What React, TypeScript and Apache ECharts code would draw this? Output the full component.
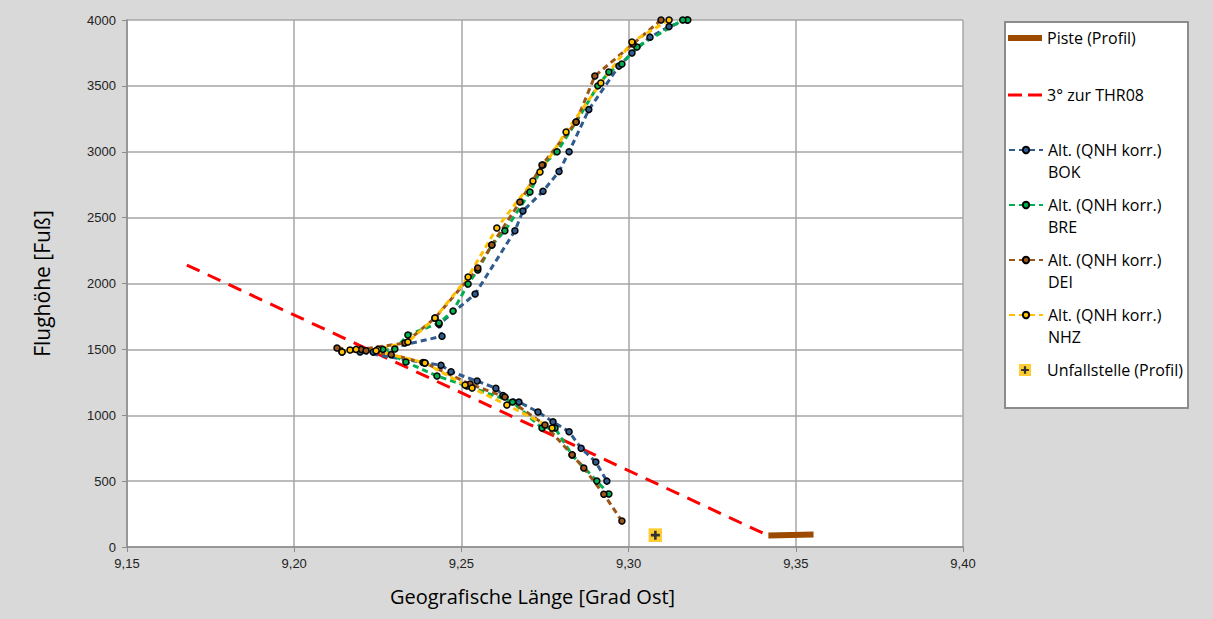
import React, { useEffect, useRef } from "react";
import * as echarts from "echarts";

// ---- data (longitude [deg E], altitude [ft]) ----
const pisteProfile: [number, number][] = [
  [9.3418, 88],
  [9.3553, 94],
];
const glidePath3deg: [number, number][] = [
  [9.1679, 2140],
  [9.3418, 86],
];
const altBOK: [number, number][] = [
  [9.3175, 4000], [9.3121, 3950], [9.3064, 3870], [9.301, 3750], [9.2971, 3650],
  [9.2881, 3320], [9.2822, 3000], [9.2792, 2850], [9.2744, 2700], [9.2684, 2550],
  [9.266, 2400], [9.2541, 1920], [9.2433, 1690], [9.2442, 1600], [9.2236, 1480],
  [9.2197, 1480], [9.2385, 1400], [9.2439, 1380], [9.2469, 1330], [9.2547, 1260],
  [9.2603, 1205], [9.2624, 1150], [9.2672, 1100], [9.2729, 1025], [9.2774, 950],
  [9.2822, 875], [9.2858, 750], [9.2902, 645], [9.2935, 500],
];
const altBRE: [number, number][] = [
  [9.3177, 4000], [9.3162, 4000], [9.3025, 3795], [9.298, 3666], [9.2941, 3605],
  [9.2908, 3500], [9.2843, 3226], [9.2786, 3000], [9.2744, 2900], [9.2705, 2694],
  [9.263, 2400], [9.2591, 2292], [9.2549, 2102], [9.252, 1996], [9.2475, 1791],
  [9.2433, 1700], [9.234, 1609], [9.2301, 1503], [9.2265, 1500], [9.2334, 1404],
  [9.2427, 1298], [9.2517, 1222], [9.2653, 1100], [9.2741, 903], [9.278, 903],
  [9.2831, 698], [9.2905, 501], [9.2941, 402],
];
const altDEI: [number, number][] = [
  [9.3097, 4000], [9.3013, 3818], [9.2899, 3575], [9.2843, 3226], [9.2741, 2899],
  [9.2675, 2619], [9.2591, 2292], [9.2549, 2118], [9.2421, 1738], [9.2331, 1548],
  [9.22, 1500], [9.2128, 1510], [9.2143, 1480], [9.2215, 1490], [9.229, 1460],
  [9.2391, 1397], [9.2526, 1237], [9.263, 1139], [9.275, 926], [9.2831, 700],
  [9.2866, 600], [9.2926, 400], [9.298, 197],
];
const altNHZ: [number, number][] = [
  [9.3121, 4000], [9.301, 3833], [9.2917, 3522], [9.2813, 3150], [9.2735, 2846],
  [9.2714, 2778], [9.2606, 2421], [9.252, 2049], [9.2421, 1738], [9.234, 1556],
  [9.225, 1500], [9.2167, 1495], [9.2143, 1480], [9.2185, 1500], [9.2245, 1490],
  [9.2391, 1397], [9.2511, 1230], [9.2532, 1207], [9.2636, 1078], [9.2771, 903],
];
const crashSite: [number, number][] = [[9.308, 90]];

const xRange = { min: 9.15, max: 9.4, step: 0.05 };
const yRange = { min: 0, max: 4000, step: 500 };

const FONT = "'Open Sans', 'Noto Sans', sans-serif";
const TICK_FONT = "'Liberation Sans', Arial, sans-serif";

const crossSvg =
  "<svg xmlns='http://www.w3.org/2000/svg' width='14' height='14' viewBox='0 0 14 14'>" +
  "<rect width='14' height='14' fill='#ffc000'/>" +
  "<path d='M7 2.5V11.5M2.5 7H11.5' stroke='#000' stroke-width='2.6'/></svg>";
const crossSymbol = "image://data:image/svg+xml;charset=utf-8," + encodeURIComponent(crossSvg);

const altSeries = [
  { name: "Alt. (QNH korr.) BOK", code: "BOK", data: altBOK, color: "#2f5b8f" },
  { name: "Alt. (QNH korr.) BRE", code: "BRE", data: altBRE, color: "#00b050" },
  { name: "Alt. (QNH korr.) DEI", code: "DEI", data: altDEI, color: "#9c5518" },
  { name: "Alt. (QNH korr.) NHZ", code: "NHZ", data: altNHZ, color: "#ffc000" },
];

export default function App() {
  const ref = useRef<HTMLDivElement>(null);
  useEffect(() => {
    if (!ref.current) return;
    const chart = echarts.init(ref.current, undefined, { renderer: "svg" });

    const textStyle = { fontFamily: FONT, fontSize: 16, lineHeight: 22, color: "#000" };
    const baseLegend = { left: 1008, orient: "vertical", padding: 0, itemWidth: 34, selectedMode: false, textStyle };

    const legends: any[] = [
      {
        ...baseLegend,
        top: 38 - 11,
        itemHeight: 6,
        data: [{ name: "Piste (Profil)", icon: "rect", itemStyle: { color: "#9c4a00" } }],
      },
      {
        ...baseLegend,
        top: 95 - 11,
        itemHeight: 3,
        data: [
          {
            name: "3° zur THR08",
            icon: "path://M0 0H14V3H0Z M20 0H34V3H20Z",
            itemStyle: { color: "#ff0000" },
          },
        ],
      },
      ...altSeries.map((s, i) => ({
        ...baseLegend,
        top: 150 + i * 55 - 33,
        itemHeight: 8,
        data: [s.name],
        formatter: () => "\nAlt. (QNH korr.)\n" + s.code,
      })),
      {
        ...baseLegend,
        top: 370 - 11,
        itemHeight: 12,
        data: ["Unfallstelle (Profil)"],
      },
    ];

    const option: any = {
      animation: false,
      backgroundColor: "#d9d9d9",
      grid: {
        left: 127,
        top: 20,
        width: 836,
        height: 527,
        show: true,
        backgroundColor: "#ffffff",
        borderWidth: 0,
        containLabel: false,
      },
      graphic: [
        {
          type: "rect",
          z: -1,
          shape: { x: 1005, y: 22, width: 183, height: 386 },
          style: { fill: "#ffffff", stroke: "#8c8c8c", lineWidth: 2 },
        },
      ],
      legend: legends,
      xAxis: {
        type: "value",
        min: xRange.min,
        max: xRange.max,
        interval: xRange.step,
        name: "Geografische Länge [Grad Ost]",
        nameLocation: "middle",
        nameGap: 39,
        nameTextStyle: { fontFamily: FONT, fontSize: 20, color: "#000", padding: [0, 25, 0, 0] },
        axisLine: { show: true, lineStyle: { color: "#8c8c8c", width: 1.5 } },
        axisTick: { show: true, inside: false, length: 5, lineStyle: { color: "#8c8c8c" } },
        axisLabel: {
          fontFamily: TICK_FONT,
          fontSize: 13,
          color: "#222",
          margin: 10,
          formatter: (v: number) => v.toFixed(2).replace(".", ","),
        },
        splitLine: { show: true, lineStyle: { color: "#a6a6a6", width: 1.5 } },
      },
      yAxis: {
        type: "value",
        min: yRange.min,
        max: yRange.max,
        interval: yRange.step,
        name: "Flughöhe [Fuß]",
        nameLocation: "middle",
        nameGap: 75,
        nameTextStyle: { fontFamily: FONT, fontSize: 21, color: "#000" },
        axisLine: { show: true, lineStyle: { color: "#8c8c8c", width: 1.5 } },
        axisTick: { show: true, inside: false, length: 5, lineStyle: { color: "#8c8c8c" } },
        axisLabel: {
          fontFamily: TICK_FONT,
          fontSize: 13,
          color: "#222",
          margin: 11,
          formatter: (v: number) => String(Math.round(v)),
        },
        splitLine: { show: true, lineStyle: { color: "#a6a6a6", width: 1.5 } },
      },
      series: [
        {
          name: "Piste (Profil)",
          type: "line",
          data: pisteProfile,
          symbol: "none",
          lineStyle: { color: "#9c4a00", width: 6 },
          itemStyle: { color: "#9c4a00" },
          z: 3,
        },
        {
          name: "3° zur THR08",
          type: "line",
          data: glidePath3deg,
          symbol: "none",
          lineStyle: { color: "#ff0000", width: 3, type: [14, 9] },
          itemStyle: { color: "#ff0000" },
          z: 2,
        },
        ...altSeries.map((s) => ({
          name: s.name,
          type: "line",
          data: s.data,
          symbol: "circle",
          symbolSize: 6,
          lineStyle: { color: s.color, width: 3, type: [6, 4] },
          itemStyle: { color: s.color, borderColor: "#000", borderWidth: 1.5 },
          z: 4,
        })),
        {
          name: "Unfallstelle (Profil)",
          type: "scatter",
          data: crashSite,
          symbol: crossSymbol,
          symbolSize: 14,
          z: 5,
        },
      ],
    };
    chart.setOption(option);
    return () => chart.dispose();
  }, []);
  return (
    <div
      style={{ position: "absolute", left: 0, top: 0, width: 1213, height: 619, background: "#d9d9d9" }}
    >
      <div ref={ref} style={{ width: 1213, height: 619 }} />
    </div>
  );
}
